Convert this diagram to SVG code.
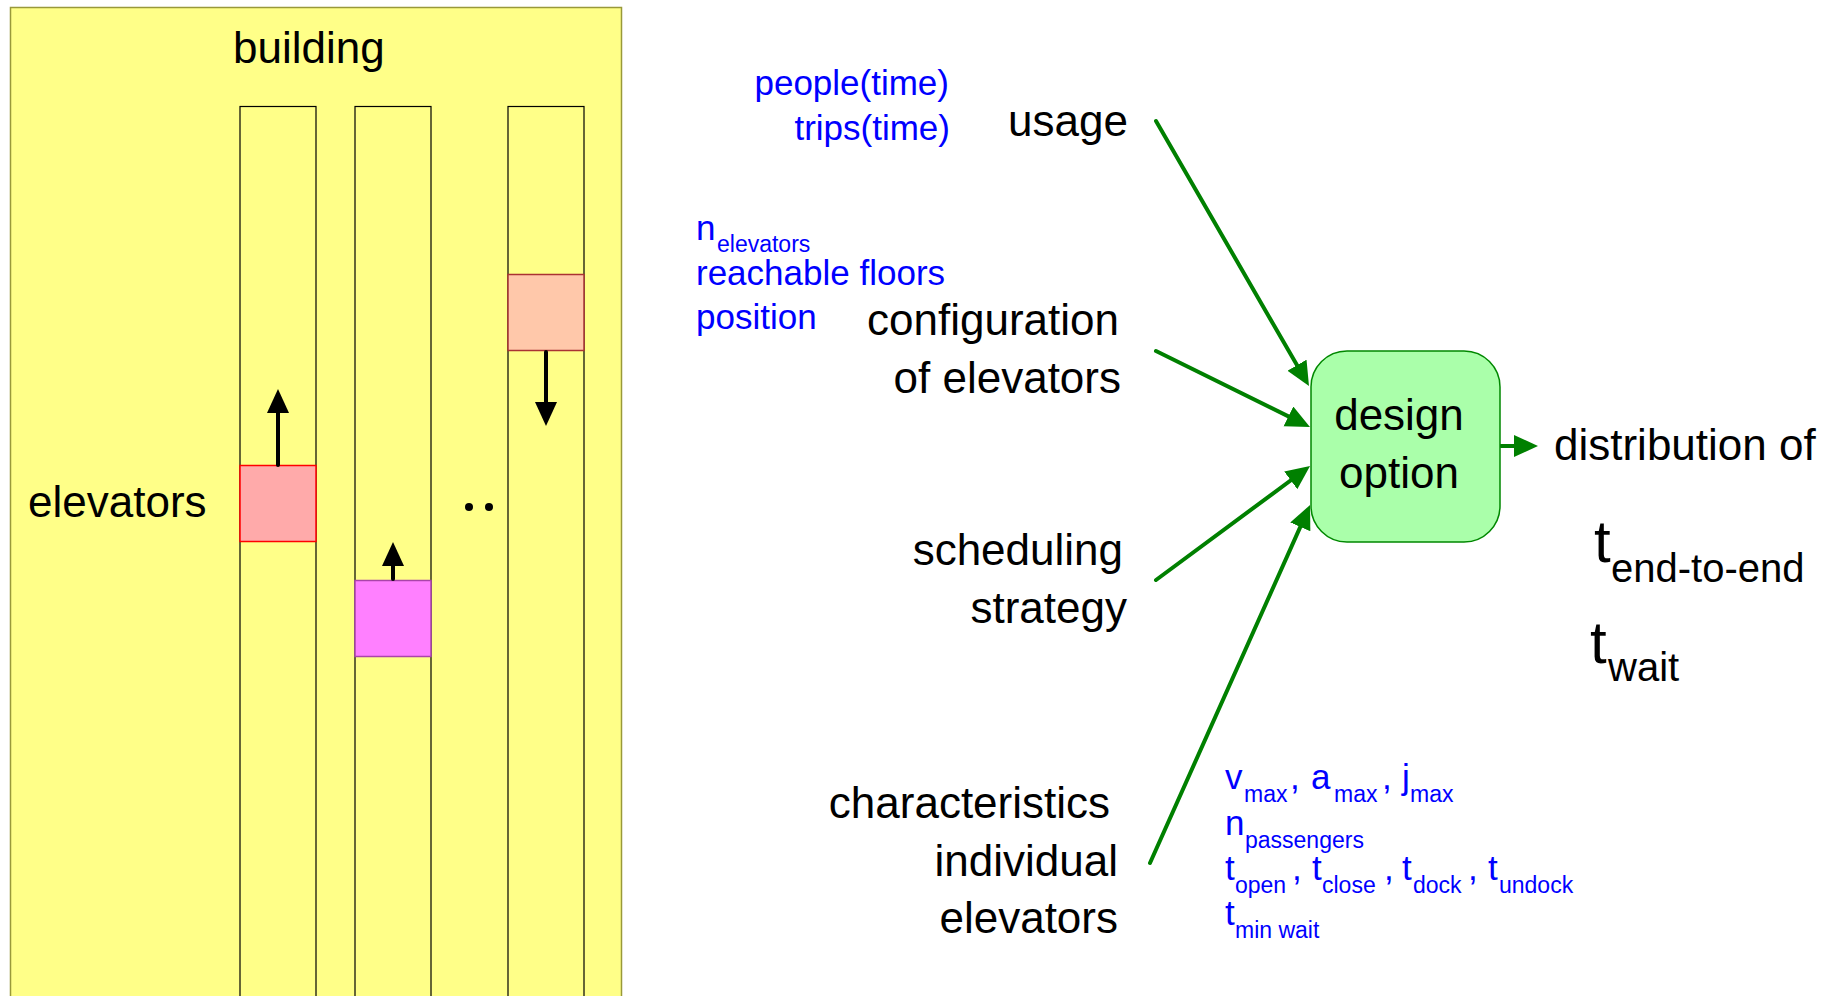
<svg xmlns="http://www.w3.org/2000/svg" width="1834" height="996" viewBox="0 0 1834 996">
<style>
text{font-family:"Liberation Sans",Arial,sans-serif;fill:#000}
.big{font-size:44px}
.blue{font-size:35px;fill:#0000ff}
.sub{font-size:23px}
.shaft{fill:none;stroke:#000;stroke-width:1.2}
.conn{stroke:#008000;stroke-width:4;stroke-linecap:round;fill:none}
.blk{stroke:#000;stroke-width:4;stroke-linecap:round;fill:none}
</style>
<defs>
<marker id="ag" markerUnits="userSpaceOnUse" markerWidth="26" markerHeight="24" refX="14" refY="11" orient="auto" viewBox="0 0 26 24">
<path d="M0,0 L24,11 L0,22 Z" fill="#008000"/>
</marker>
<marker id="ab" markerUnits="userSpaceOnUse" markerWidth="26" markerHeight="24" refX="14" refY="11" orient="auto" viewBox="0 0 26 24">
<path d="M0,0 L24,11 L0,22 Z" fill="#000"/>
</marker>
</defs>
<rect width="1834" height="996" fill="#fff"/>

<g id="building">
<rect x="10.5" y="7.5" width="611" height="1000" fill="#ffff88" stroke="#99993a" stroke-width="1.5"/>
<text class="big" x="233" y="63">building</text>
<text class="big" x="28" y="517">elevators</text>
<rect class="shaft" x="240" y="106.5" width="76" height="900"/>
<rect class="shaft" x="355" y="106.5" width="76" height="900"/>
<rect class="shaft" x="508" y="106.5" width="76" height="900"/>
<circle cx="469" cy="507" r="4" fill="#000"/>
<circle cx="489" cy="507" r="4" fill="#000"/>
</g>

<g id="elevator1">
<rect x="240" y="465.5" width="76" height="76" fill="#ffaaaa" stroke="#ff0000" stroke-width="1.5"/>
<line class="blk" x1="278" y1="465" x2="278" y2="399" marker-end="url(#ab)"/>
</g>
<g id="elevator2">
<rect x="355" y="580.5" width="76" height="76" fill="#ff80ff" stroke="#aa44aa" stroke-width="1.5"/>
<line class="blk" x1="393" y1="579" x2="393" y2="552" marker-end="url(#ab)"/>
</g>
<g id="elevator3">
<rect x="508" y="274.5" width="76" height="76" fill="#ffc8aa" stroke="#aa3333" stroke-width="1.5"/>
<line class="blk" x1="546" y1="352" x2="546" y2="416" marker-end="url(#ab)"/>
</g>

<g id="connectors">
<line class="conn" x1="1156" y1="121" x2="1304" y2="377.3" marker-end="url(#ag)"/>
<line class="conn" x1="1156" y1="351" x2="1301" y2="422.6" marker-end="url(#ag)"/>
<line class="conn" x1="1156" y1="580" x2="1302" y2="472" marker-end="url(#ag)"/>
<line class="conn" x1="1150" y1="863" x2="1306" y2="514.1" marker-end="url(#ag)"/>
<line class="conn" x1="1501" y1="446" x2="1528" y2="446" marker-end="url(#ag)"/>
</g>

<g id="usage">
<text class="blue" x="949" y="95" text-anchor="end">people(time)</text>
<text class="blue" x="950" y="140" text-anchor="end">trips(time)</text>
<text class="big" x="1128" y="136" text-anchor="end">usage</text>
</g>

<g id="configuration">
<text class="blue"><tspan x="696" y="240">n</tspan><tspan class="sub" x="717" y="252">elevators</tspan></text>
<text class="blue" x="696" y="285">reachable floors</text>
<text class="blue" x="696" y="329">position</text>
<text class="big" x="1119" y="335" text-anchor="end">configuration</text>
<text class="big" x="1121" y="393" text-anchor="end">of elevators</text>
</g>

<g id="scheduling">
<text class="big" x="1123" y="565" text-anchor="end">scheduling</text>
<text class="big" x="1127" y="623" text-anchor="end">strategy</text>
</g>

<g id="characteristics">
<text class="big" x="1110" y="818" text-anchor="end">characteristics</text>
<text class="big" x="1118" y="876" text-anchor="end">individual</text>
<text class="big" x="1118" y="933" text-anchor="end">elevators</text>
<text class="blue"><tspan x="1225" y="789">v</tspan><tspan class="sub" x="1244" y="802">max</tspan><tspan x="1290" y="789">,</tspan><tspan x="1311" y="789">a</tspan><tspan class="sub" x="1334" y="802">max</tspan><tspan x="1382" y="789">,</tspan><tspan x="1402" y="789">j</tspan><tspan class="sub" x="1410" y="802">max</tspan></text>
<text class="blue"><tspan x="1225" y="835">n</tspan><tspan class="sub" x="1245" y="848">passengers</tspan></text>
<text class="blue"><tspan x="1225" y="880">t</tspan><tspan class="sub" x="1235" y="893">open</tspan><tspan x="1292" y="880">,</tspan><tspan x="1312" y="880">t</tspan><tspan class="sub" x="1322" y="893">close</tspan><tspan x="1384" y="880">,</tspan><tspan x="1402" y="880">t</tspan><tspan class="sub" x="1413" y="893">dock</tspan><tspan x="1468" y="880">,</tspan><tspan x="1488" y="880">t</tspan><tspan class="sub" x="1499" y="893">undock</tspan></text>
<text class="blue"><tspan x="1225" y="925">t</tspan><tspan class="sub" x="1235" y="938">min wait</tspan></text>
</g>

<g id="design-option">
<rect x="1311" y="351" width="189" height="191" rx="36" ry="36" fill="#aaffaa" stroke="#008800" stroke-width="1.5"/>
<text class="big" x="1399" y="430" text-anchor="middle">design</text>
<text class="big" x="1399" y="488" text-anchor="middle">option</text>
</g>

<g id="output">
<text class="big" x="1554" y="460">distribution of</text>
<text style="font-size:60px"><tspan x="1594" y="562">t</tspan><tspan style="font-size:40px" x="1611" y="582">end-to-end</tspan></text>
<text style="font-size:60px"><tspan x="1590" y="663">t</tspan><tspan style="font-size:40px" x="1608" y="681">wait</tspan></text>
</g>
</svg>
